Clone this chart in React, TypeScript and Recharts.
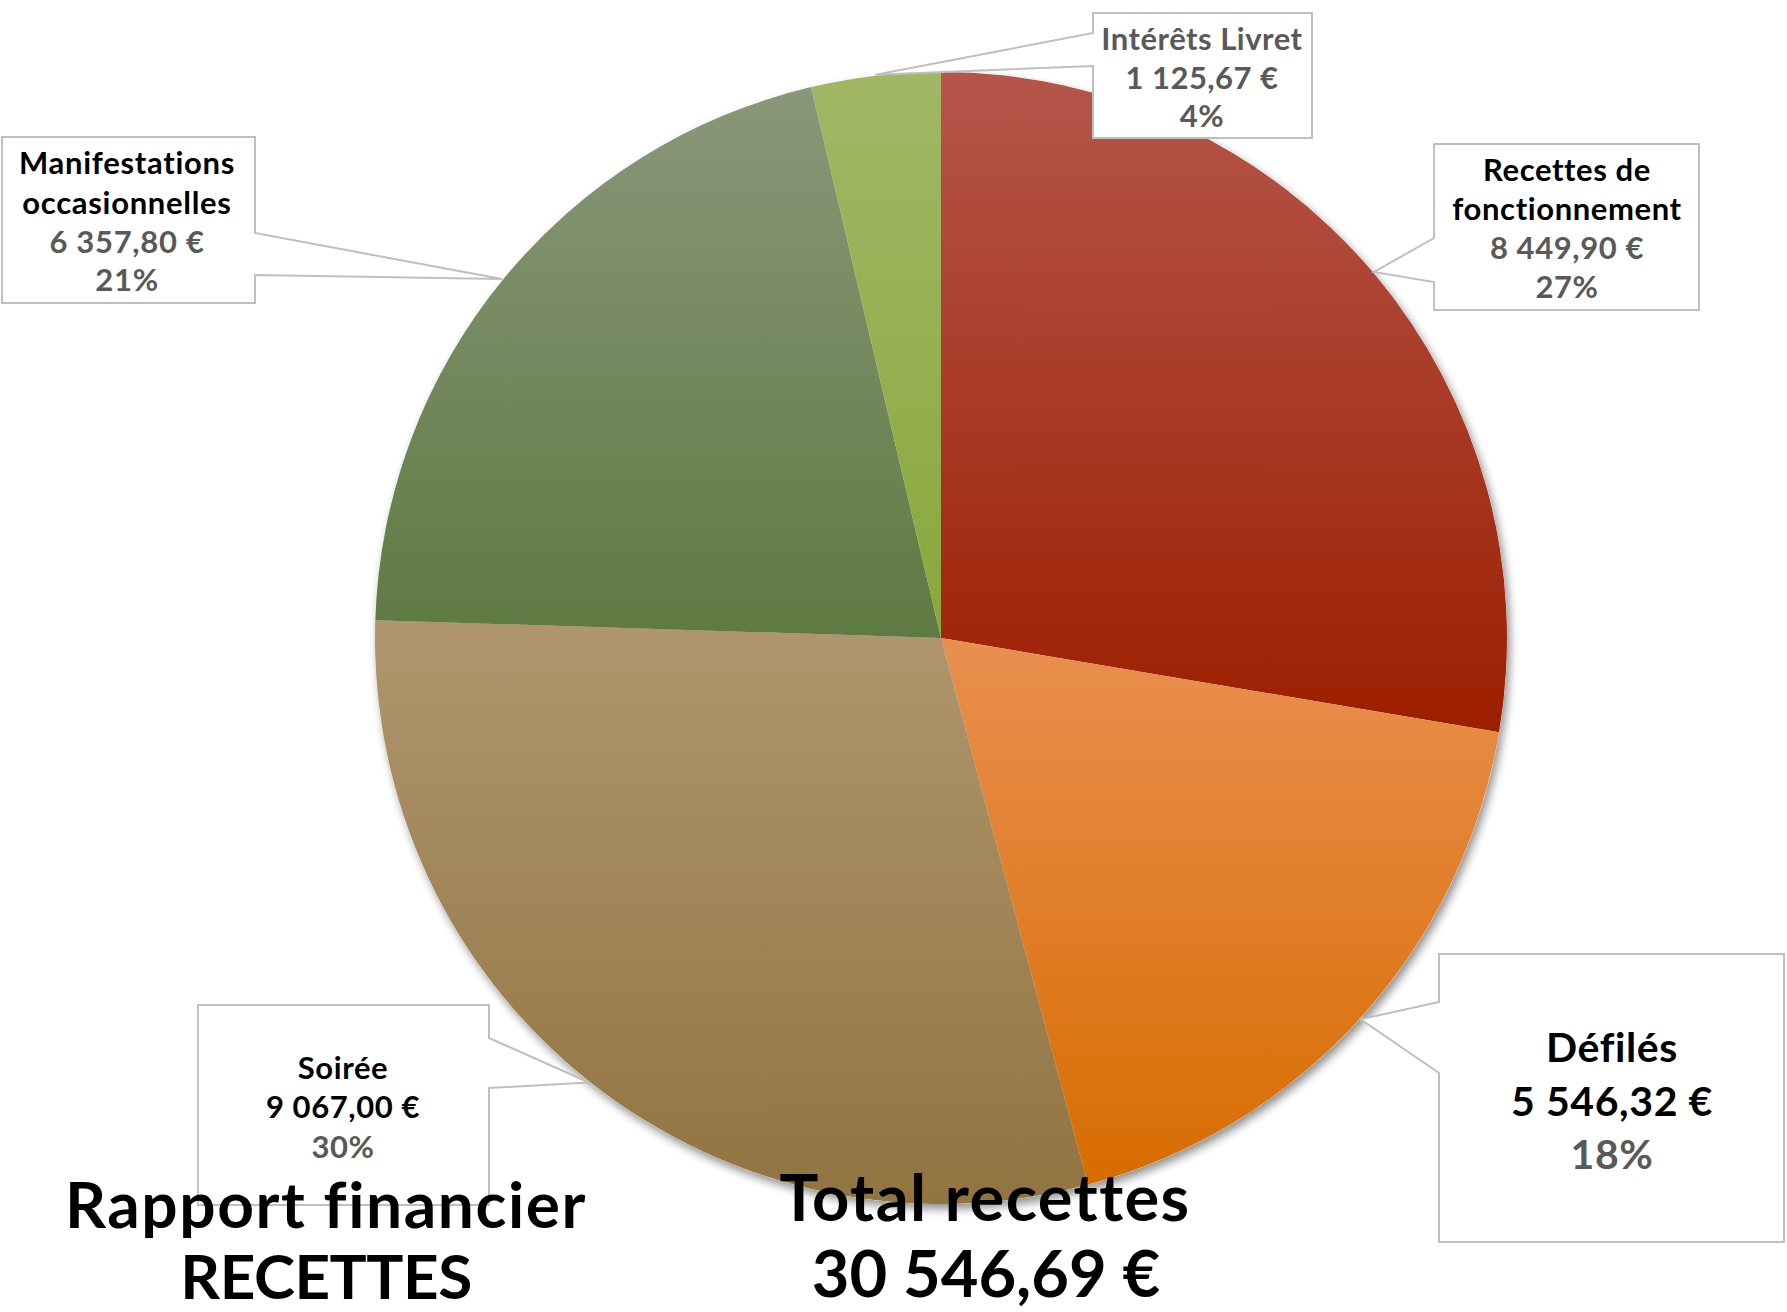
import React from 'react';
import { PieChart, Pie, Cell } from 'recharts';

// ---------- data ----------
const categories = ['Recettes de fonctionnement', 'Défilés', 'Soirée', 'Manifestations occasionnelles', 'Intérêts Livret'];
const amounts = [8449.9, 5546.32, 9067.0, 6357.8, 1125.67];
const percentLabels = ['27%', '18%', '30%', '21%', '4%'];
const titleLines = ['Rapport financier', 'RECETTES'];
const totalTitle = 'Total recettes';

const data = categories.map((name, i) => ({ name, value: amounts[i], pct: percentLabels[i] }));
const total = amounts.reduce((a, b) => a + b, 0);

const fmtEuro = (v: number) => {
  const [int, dec] = v.toFixed(2).split('.');
  return int.replace(/\B(?=(\d{3})+(?!\d))/g, '\u00a0') + ',' + dec + '\u00a0€';
};

// ---------- styles / layout ----------
const W = 1787;
const H = 1312;
const FONT = 'Lato, "Open Sans", "DejaVu Sans", sans-serif';
const GRAY = '#595959';
const GRADS = [
  ['#B5564B', '#9D1E00'],
  ['#E98F50', '#D86C00'],
  ['#B0966F', '#917440'],
  ['#8A977A', '#5E7A42'],
  ['#A2B766', '#88A83C'],
];

type Layout = {
  box: [number, number, number, number];
  side: 'left' | 'right';
  joins: [number, number];
  tx: number;
  ys: number[];
  fs: number;
  ls: number;
  colors: string[];
  wrap: number;
};

const LAYOUT: Layout[] = [
  { box: [1434, 144, 1699, 310], side: 'left', joins: [238, 282], tx: 1567, ys: [170, 209, 248, 287], fs: 31, ls: 0.6, colors: ['#000', GRAY, GRAY], wrap: 2 },
  { box: [1439, 954, 1784, 1242], side: 'left', joins: [1002, 1073], tx: 1612, ys: [1047, 1101, 1154], fs: 41, ls: 0.6, colors: ['#000', '#000', GRAY], wrap: 0 },
  { box: [198, 1005, 489, 1205], side: 'right', joins: [1038, 1088], tx: 343, ys: [1068, 1107, 1147], fs: 31, ls: 0.6, colors: ['#000', '#000', GRAY], wrap: 0 },
  { box: [2, 137, 255, 303], side: 'right', joins: [233, 275], tx: 127, ys: [163, 203, 242, 280], fs: 31, ls: 0.7, colors: ['#000', GRAY, GRAY], wrap: 1 },
  { box: [1093, 13, 1312, 138], side: 'left', joins: [33, 66], tx: 1202, ys: [39, 78, 116], fs: 31, ls: 0.5, colors: [GRAY, GRAY, GRAY], wrap: 0 },
];

const RAD = Math.PI / 180;

const renderLabel = (props: any) => {
  const { cx, cy, midAngle, outerRadius, index, payload } = props;
  const L = LAYOUT[index];
  if (!L) return null;
  const r = outerRadius + 1;
  const tipX = cx + r * Math.cos(-midAngle * RAD);
  const tipY = cy + r * Math.sin(-midAngle * RAD);
  const [x1, y1, x2, y2] = L.box;
  const [ja, jb] = L.joins;
  let d: string;
  if (L.side === 'left') {
    d = `M${x1},${y1} H${x2} V${y2} H${x1} V${jb} L${tipX},${tipY} L${x1},${ja} Z`;
  } else {
    d = `M${x1},${y1} H${x2} V${ja} L${tipX},${tipY} L${x2},${jb} V${y2} H${x1} Z`;
  }
  const name: string = payload?.name ?? categories[index];
  const words = name.split(' ');
  const nameLines = L.wrap > 0 ? [words.slice(0, L.wrap).join(' '), words.slice(L.wrap).join(' ')] : [name];
  const lines = [
    ...nameLines.map((t) => ({ t, c: L.colors[0] })),
    { t: fmtEuro(amounts[index]), c: L.colors[1] },
    { t: percentLabels[index], c: L.colors[2] },
  ];
  return (
    <g key={`lbl-${index}`}>
      <path d={d} fill="#ffffff" stroke="#BFBFBF" strokeWidth={2} />
      {lines.map((ln, i) => (
        <text
          key={i}
          x={L.tx}
          y={L.ys[i] + L.fs * 0.36}
          textAnchor="middle"
          fontFamily={FONT}
          fontWeight={700}
          fontSize={L.fs}
          letterSpacing={L.ls}
          fill={ln.c}
        >
          {ln.t}
        </text>
      ))}
    </g>
  );
};

export default function App() {
  return (
    <div style={{ position: 'absolute', left: 0, top: 0, width: W, height: H, background: '#fff', overflow: 'hidden' }}>
      <PieChart width={W} height={H} margin={{ top: 0, right: 0, bottom: 0, left: 0 }}>
        <defs>
          {GRADS.map((g, i) => (
            <linearGradient key={i} id={`grad${i}`} x1="0" y1="0" x2="0" y2="1">
              <stop offset="0%" stopColor={g[0]} />
              <stop offset="100%" stopColor={g[1]} />
            </linearGradient>
          ))}
          <filter id="pieShadow" x="-20%" y="-20%" width="140%" height="140%">
            <feGaussianBlur in="SourceAlpha" stdDeviation="5" />
            <feOffset dx="3" dy="5" result="ob" />
            <feComponentTransfer>
              <feFuncA type="linear" slope="0.45" />
            </feComponentTransfer>
            <feMerge>
              <feMergeNode />
              <feMergeNode in="SourceGraphic" />
            </feMerge>
          </filter>
        </defs>
        <Pie
          data={data}
          dataKey="value"
          nameKey="name"
          cx={941}
          cy={638}
          outerRadius={566}
          startAngle={90}
          endAngle={-270}
          stroke="none"
          isAnimationActive={false}
          label={false}
          labelLine={false}
        >
          {data.map((_, i) => (
            <Cell key={i} fill="#ffffff" filter="url(#pieShadow)" />
          ))}
        </Pie>
        <Pie
          data={data}
          dataKey="value"
          nameKey="name"
          cx={941}
          cy={638}
          outerRadius={566}
          startAngle={90}
          endAngle={-270}
          stroke="none"
          isAnimationActive={false}
          label={renderLabel}
          labelLine={false}
        >
          {data.map((_, i) => (
            <Cell key={i} fill={`url(#grad${i})`} />
          ))}
        </Pie>
      </PieChart>
      <svg width={W} height={H} style={{ position: 'absolute', left: 0, top: 0, pointerEvents: 'none' }}>
        <g fontFamily={FONT} fontWeight={700} fill="#000" textAnchor="middle">
          <text x={326} y={1228} fontSize={64} letterSpacing={1.6}>{titleLines[0]}</text>
          <text x={326} y={1299} fontSize={62} letterSpacing={-0.5}>{titleLines[1]}</text>
          <text x={985} y={1221} fontSize={65} letterSpacing={1.4}>{totalTitle}</text>
          <text x={986} y={1297} fontSize={65} letterSpacing={0}>{fmtEuro(total)}</text>
        </g>
      </svg>
    </div>
  );
}
